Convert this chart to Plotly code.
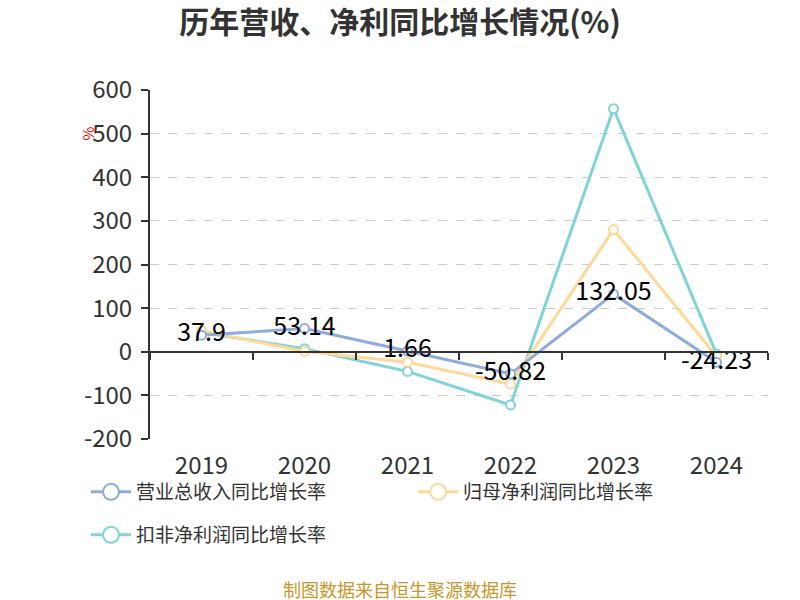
import plotly.graph_objects as go

years = ["2019", "2020", "2021", "2022", "2023", "2024"]
revenue = [37.9, 53.14, 1.66, -50.82, 132.05, -24.23]
net_profit = [48, 1, -24, -74, 280, -11]
deducted_profit = [44, 7, -45, -122, 557, -5]
y_ticks = [600, 500, 400, 300, 200, 100, 0, -100, -200]

names = ["营业总收入同比增长率", "归母净利润同比增长率", "扣非净利润同比增长率"]
colors = ["#8EACDB", "#FFD89A", "#80D4D6"]
series = [revenue, net_profit, deducted_profit]

FONT = "Noto Sans CJK SC"
W, H = 800, 600
L, R, T, B = 150, 32, 90, 161
PW, PH = W - L - R, H - T - B


def px_x(px):
    return (px - L) / PW


def px_y(py):
    return (H - B - py) / PH


fig = go.Figure()
# drawn in reverse so the first series (with labels) lies on top
for i in [2, 1, 0]:
    nm, col, vals = names[i], colors[i], series[i]
    fig.add_trace(go.Scatter(
        x=years, y=vals, name=nm, showlegend=False,
        mode="lines+markers+text" if i == 0 else "lines+markers",
        line=dict(color=col, width=3),
        marker=dict(symbol="circle", size=9, color="white", line=dict(color=col, width=2)),
        text=[f"{v:g}" for v in vals] if i == 0 else None,
        textposition="middle center",
        textfont=dict(size=25, color="#000", family=FONT),
        cliponaxis=False,
    ))

# legend entries
for i in range(3):
    fig.add_trace(go.Scatter(
        x=years, y=[None] * len(years), name=names[i], mode="lines+markers",
        line=dict(color=colors[i], width=3),
        marker=dict(symbol="circle", size=20, color="white", line=dict(color=colors[i], width=2)),
        legend="legend" if i < 2 else "legend2", hoverinfo="skip",
    ))

# dummy trace for bottom label axis
fig.add_trace(go.Scatter(x=years, y=[None] * len(years), xaxis="x2", showlegend=False,
                         hoverinfo="skip", mode="lines"))

legend_common = dict(orientation="h", xanchor="left", yanchor="middle",
                     font=dict(size=19, color="#333", family=FONT),
                     itemwidth=40, bgcolor="rgba(0,0,0,0)")

fig.update_layout(
    width=W, height=H,
    margin=dict(l=L, r=R, t=T, b=B, autoexpand=False),
    plot_bgcolor="white", paper_bgcolor="white",
    font=dict(family=FONT, color="#333"),
    title=dict(text="<b>历年营收、净利同比增长情况(%)</b>", x=0.5, xanchor="center",
               y=1 - 22 / H, yanchor="middle", font=dict(size=30, color="#333", family=FONT)),
    xaxis=dict(type="category", categoryarray=years, range=[-0.5, 5.5], automargin=False,
               anchor="free", position=0.25, showline=True, linecolor="#333", linewidth=2,
               ticks="outside", ticklen=7, tickwidth=1.5, tickcolor="#333", tickson="boundaries",
               showticklabels=False, showgrid=False, zeroline=False),
    xaxis2=dict(type="category", categoryarray=years, range=[-0.5, 5.5], overlaying="x",
                anchor="y", side="bottom", showline=False, ticks="", showgrid=False,
                automargin=False, ticklabelstandoff=10,
                tickfont=dict(size=24, color="#333", family=FONT), zeroline=False),
    yaxis=dict(range=[-200, 600], tickvals=y_ticks, ticktext=[str(v) for v in y_ticks],
               showline=True, linecolor="#333", linewidth=2, ticklabelstandoff=4,
               ticks="outside", ticklen=7, tickwidth=1.5, tickcolor="#333", automargin=False,
               showgrid=True, gridcolor="#cccccc", griddash="dash", gridwidth=1,
               zeroline=False, tickfont=dict(size=24, color="#333", family=FONT)),
    legend=dict(x=px_x(86), y=px_y(492), entrywidth=272, **legend_common),
    legend2=dict(x=px_x(86), y=px_y(535), **legend_common),
    showlegend=True,
)

fig.add_annotation(text="%", xref="paper", yref="paper", x=px_x(74), y=px_y(125),
                   showarrow=False, textangle=-90, font=dict(size=15, color="red", family=FONT))
fig.add_annotation(text="制图数据来自恒生聚源数据库", xref="paper", yref="paper",
                   x=px_x(400), y=px_y(589), yanchor="middle", xanchor="center",
                   showarrow=False, font=dict(size=18, color="#C8962A", family=FONT))

fig.write_html("out.html", config={"displayModeBar": False},
               post_script="document.body.style.margin='0';document.body.style.overflow='hidden';")
